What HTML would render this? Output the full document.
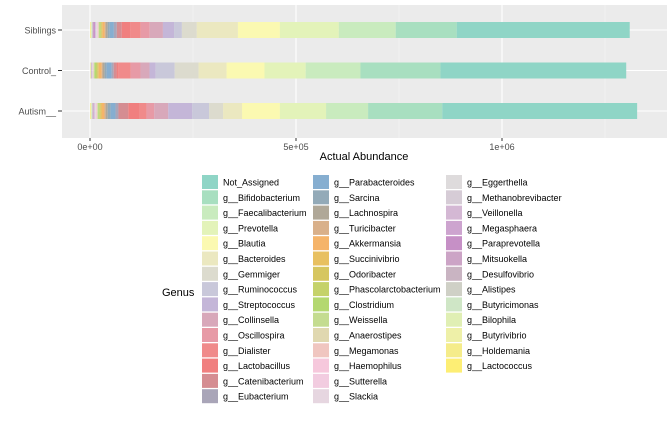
<!DOCTYPE html>
<html><head><meta charset="utf-8"><style>
body{margin:0;background:#fff;font-family:"Liberation Sans",sans-serif}
svg text{font-family:"Liberation Sans",sans-serif}
</style></head><body>
<svg id="c" width="669" height="416"></svg>
<script>
const genera=["Not_Assigned","g__Bifidobacterium","g__Faecalibacterium","g__Prevotella","g__Blautia","g__Bacteroides","g__Gemmiger","g__Ruminococcus","g__Streptococcus","g__Collinsella","g__Oscillospira","g__Dialister","g__Lactobacillus","g__Catenibacterium","g__Eubacterium","g__Parabacteroides","g__Sarcina","g__Lachnospira","g__Turicibacter","g__Akkermansia","g__Succinivibrio","g__Odoribacter","g__Phascolarctobacterium","g__Clostridium","g__Weissella","g__Anaerostipes","g__Megamonas","g__Haemophilus","g__Sutterella","g__Slackia","g__Eggerthella","g__Methanobrevibacter","g__Veillonella","g__Megasphaera","g__Paraprevotella","g__Mitsuokella","g__Desulfovibrio","g__Alistipes","g__Butyricimonas","g__Bilophila","g__Butyrivibrio","g__Holdemania","g__Lactococcus"];
const colors=["#8fd5c6","#a8dfc0","#c9ebbe","#e3f3b9","#fbf9b1","#ebe8c0","#dcdbce","#c9c8da","#c4b6d8","#d8a8ba","#e79aa6","#f08a8a","#f07f7f","#d58d92","#a9a5b8","#86aed0","#93aab8","#b0a898","#d9b08a","#f5b46a","#e8c060","#d6c660","#c5d26a","#b4d870","#c4dc90","#e0d8b0","#f0c6c0","#f6c8dc","#f2cce0","#e6d6e0","#dedbdc","#d6ccd6","#d4b8d4","#cda4cf","#c690c6","#cca4c6","#c9b4c2","#cfd0c6","#cfe6c6","#e0efb4","#eef0a8","#f5ec8a","#fdee74"];
const samples=["Siblings","Control_","Autism__"];
// values in thousands
const siblings=[420,148,138,143,102,100,36,19,27,32,22,24,22,12,7,10,5,5,2,5,2,2,2,2,1,2,1,1,1,1,1,1,1,1,4,1,1,1,1,1,1,1,1];
const control=[451,194,133,100,92,68,58,46,15,22,24,29,5,7,5,12,5,5,2,7,2,2,3,3,2,1,0.5,0.5,0.5,0.5,0.5,0.5,0.5,0.5,0.5,0.5,0.5,0.5,0.5,0.5,0.5,0.5,0.5];
const autism=[473,180,102,112,92,46,34,41,58,34,19,17,27,24,7,12,7,5,3,6,3,2,2,2,1,2,1,1,1,1,1,1,1,1,1,1,1,1,1,1,1,1,1];
const series=[siblings,control,autism];
const xTicks=[0,500,1000];
const xTickLabels=["0e+00","5e+05","1e+06"];

const NS="http://www.w3.org/2000/svg";
const svg=document.getElementById('c');
function mk(t,a,p){const e=document.createElementNS(NS,t);for(const k in a)e.setAttribute(k,a[k]);(p||svg).appendChild(e);return e;}
const L=62,R=667,T=5,B=138;
const x0=90,pxPer=206/500;
const xs=v=>x0+v*pxPer;
const ys=i=>30+i*40.5;
const bg=mk('rect',{x:L,y:T,width:R-L,height:B-T,fill:'#ebebeb'});


[250,750,1250].forEach(v=>mk('line',{x1:xs(v),x2:xs(v),y1:T,y2:B,stroke:'#f5f5f5','stroke-width':0.6}));
xTicks.forEach(v=>mk('line',{x1:xs(v),x2:xs(v),y1:T,y2:B,stroke:'#fff','stroke-width':1.1}));
samples.forEach((s,i)=>mk('line',{x1:L,x2:R,y1:ys(i),y2:ys(i),stroke:'#fff','stroke-width':1.1}));
samples.forEach((s,i)=>{
  const vals=series[i];let cum=0;
  for(let g=genera.length-1;g>=0;g--){
    const r=mk('rect',{x:xs(cum),y:ys(i)-8,width:Math.max(0,vals[g]*pxPer),height:16,fill:colors[g]});
    
    
    cum+=vals[g];
  }
  const t=mk('text',{x:56,y:ys(i)+3.5,'text-anchor':'end','font-size':9,fill:'#4d4d4d'});t.textContent=s;
  
  
  mk('line',{x1:58,x2:L,y1:ys(i),y2:ys(i),stroke:'#333'});
});
xTicks.forEach((v,k)=>{
  mk('line',{x1:xs(v),x2:xs(v),y1:B,y2:B+3,stroke:'#333'});
  const t=mk('text',{x:xs(v),y:B+12,'text-anchor':'middle','font-size':9,fill:'#4d4d4d'});t.textContent=xTickLabels[k];
  
  
});
const xt=mk('text',{x:364,y:160,'text-anchor':'middle','font-size':11,fill:'#000'});xt.textContent='Actual Abundance';


const gt=mk('text',{x:162,y:296,'font-size':11,fill:'#000'});gt.textContent='Genus';


const colX=[202,313,446];
genera.forEach((g,k)=>{
  const c=Math.floor(k/15),r=k%15;
  const y=175+r*15.3;
  const grp=mk('g',{});
  
  
  mk('rect',{x:colX[c],y:y,width:16,height:14,fill:colors[k]},grp);
  const t=mk('text',{x:colX[c]+21,y:y+10.5,'font-size':9,fill:'#000'},grp);t.textContent=g;
});
</script>
</body></html>
